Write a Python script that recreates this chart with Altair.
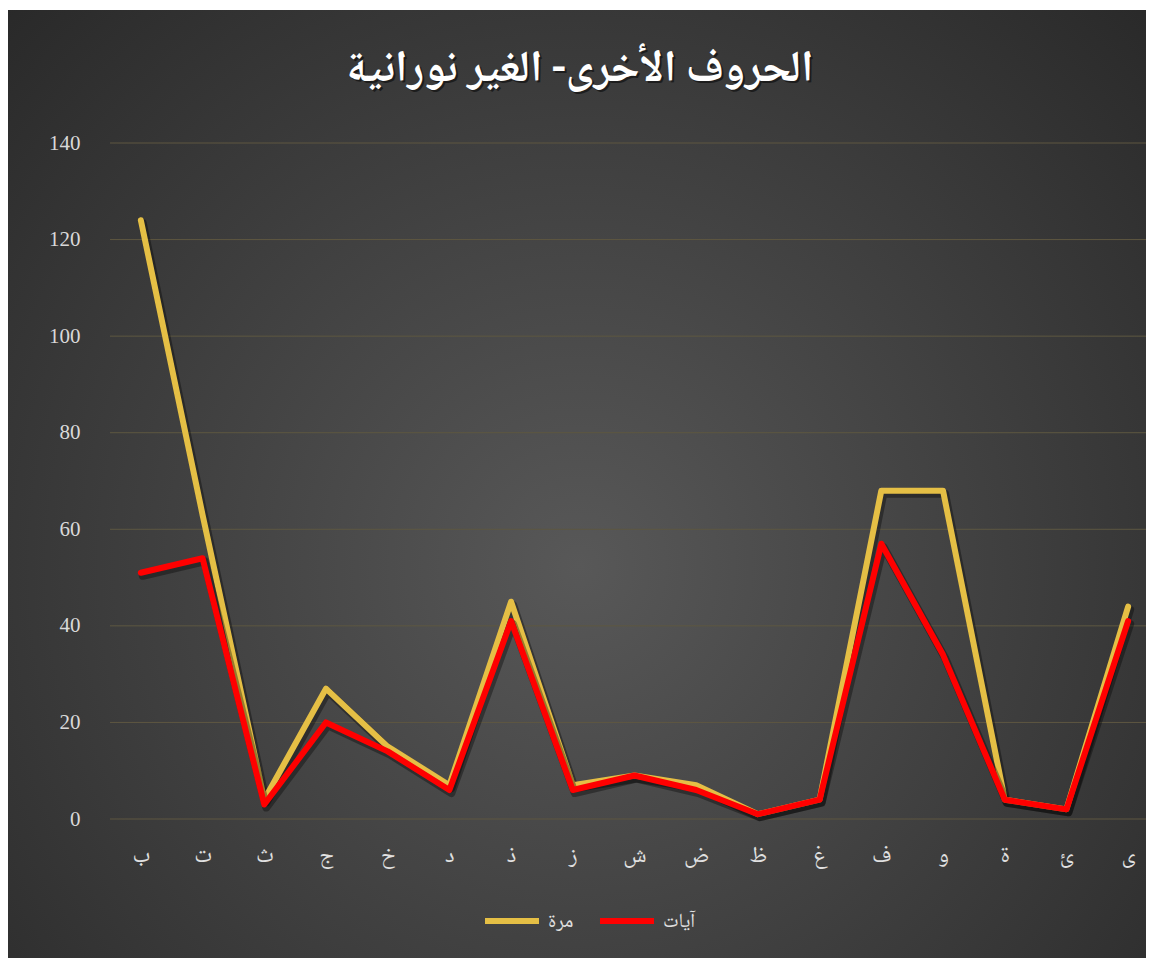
import altair as alt
import pandas as pd

letters = ["ب", "ت", "ث", "ج", "خ", "د", "ذ", "ز", "ش", "ض", "ظ", "غ", "ف", "و", "ة", "ئ", "ى"]
marra = [124, 63, 4, 27, 15, 7, 45, 7, 9, 7, 1, 4, 68, 68, 4, 2, 44]
ayat = [51, 54, 3, 20, 14, 6, 41, 6, 9, 6, 1, 4, 57, 34, 4, 2, 41]
series_names = ["مرة", "آيات"]
series_colors = ["#E5BF45", "#FF0000"]
title_text = "الحروف الأخرى- الغير نورانية"
y_ticks = [0, 20, 40, 60, 80, 100, 120, 140]

rows = []
for i, l in enumerate(letters):
    rows.append({"letter": l, "series": series_names[0], "value": marra[i], "idx": i})
for i, l in enumerate(letters):
    rows.append({"letter": l, "series": series_names[1], "value": ayat[i], "idx": i})
df = pd.DataFrame(rows)

W, H = 1036, 676
ARABIC = "Noto Naskh Arabic, Amiri, DejaVu Sans"

x_enc = alt.X("letter:N", sort=letters, title=None,
              scale=alt.Scale(range=[0, 1049]),
              axis=alt.Axis(labelAngle=0, domain=False, ticks=False, grid=False,
                            labelPadding=24, labelFontSize=23, labelColor="#e0e0e0",
                            labelFont=ARABIC, zindex=1))
y_scale = alt.Scale(domain=[0, 140], nice=False)
y_axis = alt.Axis(values=y_ticks, domain=False, ticks=False, grid=False,
                  labelPadding=30, labelFontSize=21, labelColor="#d9d9d9",
                  labelFont="Liberation Serif", zindex=1)
y_enc = alt.Y("value:Q", title=None, scale=y_scale, axis=y_axis)

base = alt.Chart(df)

bg = alt.Chart(pd.DataFrame({"a": [0]})).mark_rect(
    fill=alt.RadialGradient(
        gradient="radial",
        stops=[alt.GradientStop(offset=0, color="#585858"),
               alt.GradientStop(offset=1, color="#262626")],
        x1=0.5, y1=0.57, x2=0.5, y2=0.57, r1=0, r2=0.75),
).encode(x=alt.value(-102), x2=alt.value(1040), y=alt.value(-133), y2=alt.value(820))

grid = alt.Chart(pd.DataFrame({"v": y_ticks})).mark_rule(
    color="#5e5741", strokeWidth=1).encode(
    y=alt.Y("v:Q", title=None, scale=y_scale, axis=y_axis))

layers = [bg, grid]
for name in series_names:
    sub = base.transform_filter(alt.datum.series == name)
    shadow = sub.mark_line(strokeWidth=8, color="black", opacity=0.35,
                           xOffset=2, yOffset=3, strokeCap="round", strokeJoin="round").encode(
        x=x_enc, y=y_enc, order="idx:Q")
    line = sub.mark_line(strokeWidth=6, strokeCap="round", strokeJoin="round").encode(
        x=x_enc, y=y_enc, order="idx:Q",
        color=alt.Color("series:N",
                        scale=alt.Scale(domain=series_names, range=series_colors),
                        legend=alt.Legend(title=None, orient="none", legendX=372, legendY=748,
                                          direction="horizontal", symbolType="stroke",
                                          symbolSize=2916, symbolStrokeWidth=6,
                                          labelFontSize=20, labelColor="#e0e0e0",
                                          labelFont=ARABIC, columnPadding=14,
                                          labelOffset=6)))
    layers += [shadow, line]

tdf = pd.DataFrame({"t": [title_text]})
title_shadow = alt.Chart(tdf).mark_text(fontSize=44, fontWeight="bold", font=ARABIC,
                                        color="black", opacity=0.5,
                                        baseline="middle", align="center").encode(
    x=alt.value(472), y=alt.value(-73), text="t:N")
title = alt.Chart(tdf).mark_text(fontSize=44, fontWeight="bold", font=ARABIC,
                                 color="white", baseline="middle", align="center").encode(
    x=alt.value(470), y=alt.value(-75), text="t:N")
layers += [title_shadow, title]

chart = alt.layer(*layers).properties(
    width=W, height=H,
    padding={"left": 102, "top": 135, "right": 0, "bottom": 139},
    autosize=alt.AutoSizeParams(type="none"),
    background="white",
).configure_view(stroke=None)

chart.save("out.html", embed_options={"renderer": "svg", "actions": False})
